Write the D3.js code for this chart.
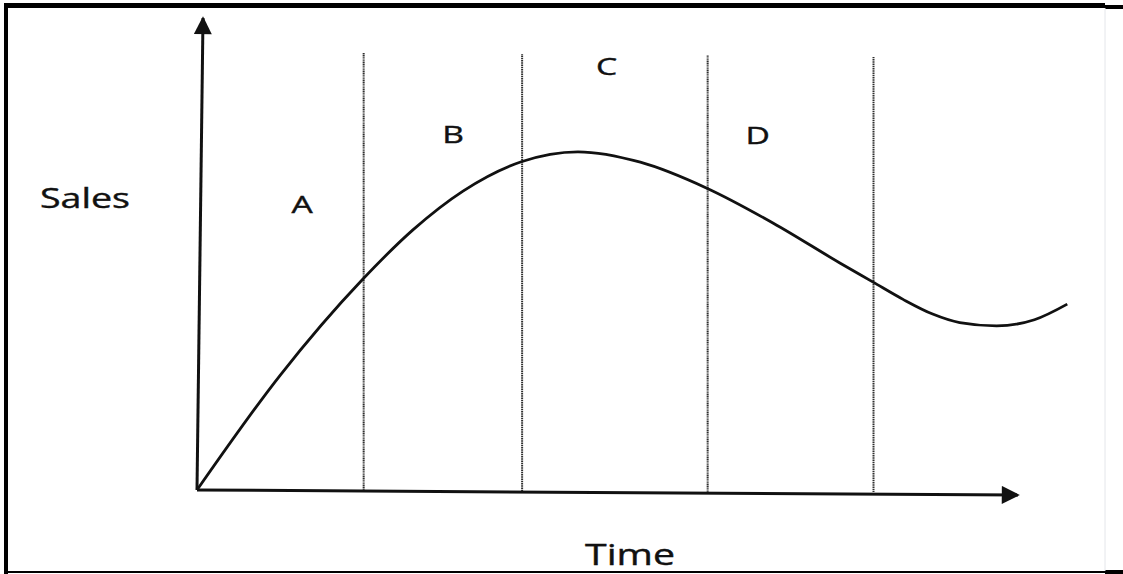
<!doctype html>
<html>
<head>
<style>
  body { margin: 0; background: #fff; }
  svg { display: block; }
</style>
</head>
<body>
<svg width="1123" height="574"></svg>
<script src="https://d3js.org/d3.v7.min.js"></script>
<script>
  // product life cycle (time 0-100, sales 0-100)
  const times = [0, 10.1, 20.1, 26.3, 32.4, 39.5, 46.4, 54.0, 62.1, 70.2, 78.3, 82.3, 86.0, 89.6, 92.9, 97.4, 102.0, 106.0];
  const sales = [0, 24.2, 44.4, 55.0, 63.2, 69.4, 71.5, 69.3, 63.8, 56.4, 48.0, 44.0, 40.3, 37.2, 35.4, 34.7, 36.0, 39.3];
  const phaseBounds = [20.3, 39.6, 62.2, 82.4];
  const phaseNames = ["A", "B", "C", "D"];
  const phaseLabelX = [12.8, 31.2, 49.9, 68.3];
  const phaseLabelY = [60.4, 75.2, 89.6, 75.0];

  let svg = d3.select("svg"),
    width = +svg.attr("width"),
    height = +svg.attr("height");

  let x = d3.scaleLinear().domain([0, 100]).range([197, 1018]);
  let y = d3.scaleLinear().domain([0, 100]).range([490, 17]);

  // scan frame
  let frame = svg.append("g");
  frame.append("rect").attr("x", 4).attr("y", 3).attr("width", 1101).attr("height", 5).attr("fill", "#000");
  frame.append("rect").attr("x", 1105).attr("y", 5).attr("width", 18).attr("height", 4).attr("fill", "#000");
  frame.append("rect").attr("x", 4).attr("y", 3).attr("width", 4).attr("height", 571).attr("fill", "#000");
  frame.append("rect").attr("x", 4).attr("y", 571).attr("width", 1101).attr("height", 2).attr("fill", "#000");
  frame.append("rect").attr("x", 1105).attr("y", 570).attr("width", 18).attr("height", 4).attr("fill", "#000");
  frame.append("line").attr("x1", 1105).attr("x2", 1105).attr("y1", 8).attr("y2", 571)
    .attr("stroke", "#e4e6ea").attr("stroke-width", 1);

  let defs = svg.append("defs");
  defs.append("marker")
    .attr("id", "arrow")
    .attr("viewBox", "0 0 10 10")
    .attr("refX", 9).attr("refY", 5)
    .attr("markerWidth", 8).attr("markerHeight", 6)
    .attr("markerUnits", "strokeWidth")
    .attr("orient", "auto")
    .append("path").attr("d", "M0,0L10,5L0,10z").attr("fill", "#111");

  // phase dividers
  svg.selectAll(".phase")
    .data(phaseBounds)
    .enter().append("line")
    .attr("class", "phase")
    .attr("x1", d => x(d)).attr("x2", d => x(d))
    .attr("y1", (d, i) => 53 + i * 1.3).attr("y2", y(0) + 2)
    .attr("stroke", "#2e2e2e")
    .attr("stroke-width", 2)
    .attr("stroke-dasharray", "1.2,0.6");

  // axes
  svg.append("line")
    .attr("x1", x(0)).attr("y1", y(0))
    .attr("x2", x(0) + 6).attr("y2", y(100) + 1)
    .attr("stroke", "#111").attr("stroke-width", 3)
    .attr("marker-end", "url(#arrow)");
  svg.append("line")
    .attr("x1", x(0)).attr("y1", y(0))
    .attr("x2", x(100)).attr("y2", y(0) + 5)
    .attr("stroke", "#111").attr("stroke-width", 3)
    .attr("marker-end", "url(#arrow)");

  let line = d3.line()
    .x((d, i) => x(times[i]))
    .y(d => y(d))
    .curve(d3.curveMonotoneX);

  svg.append("path")
    .datum(sales)
    .attr("d", line)
    .attr("fill", "none")
    .attr("stroke", "#111")
    .attr("stroke-width", 2.8);

  let font = "'Open Sans', sans-serif";

  svg.selectAll(".phase-label")
    .data(phaseNames)
    .enter().append("text")
    .attr("class", "phase-label")
    .attr("transform", (d, i) => "translate(" + x(phaseLabelX[i]) + "," + (y(phaseLabelY[i]) + 8.5) + ") scale(1.4,1)")
    .attr("text-anchor", "middle")
    .attr("font-family", font)
    .attr("font-size", 24)
    .attr("fill", "#111")
    .attr("stroke", "#111")
    .attr("stroke-width", 0.4)
    .text(d => d);

  svg.append("text")
    .attr("x", 40).attr("y", 208)
    .attr("font-family", font)
    .attr("font-size", 27)
    .attr("textLength", 90)
    .attr("lengthAdjust", "spacingAndGlyphs")
    .attr("fill", "#111")
    .attr("stroke", "#111")
    .attr("stroke-width", 0.4)
    .text("Sales");

  svg.append("text")
    .attr("x", 585).attr("y", 565)
    .attr("font-family", font)
    .attr("font-size", 29)
    .attr("textLength", 90)
    .attr("lengthAdjust", "spacingAndGlyphs")
    .attr("fill", "#111")
    .attr("stroke", "#111")
    .attr("stroke-width", 0.4)
    .text("Time");
</script>
</body>
</html>
